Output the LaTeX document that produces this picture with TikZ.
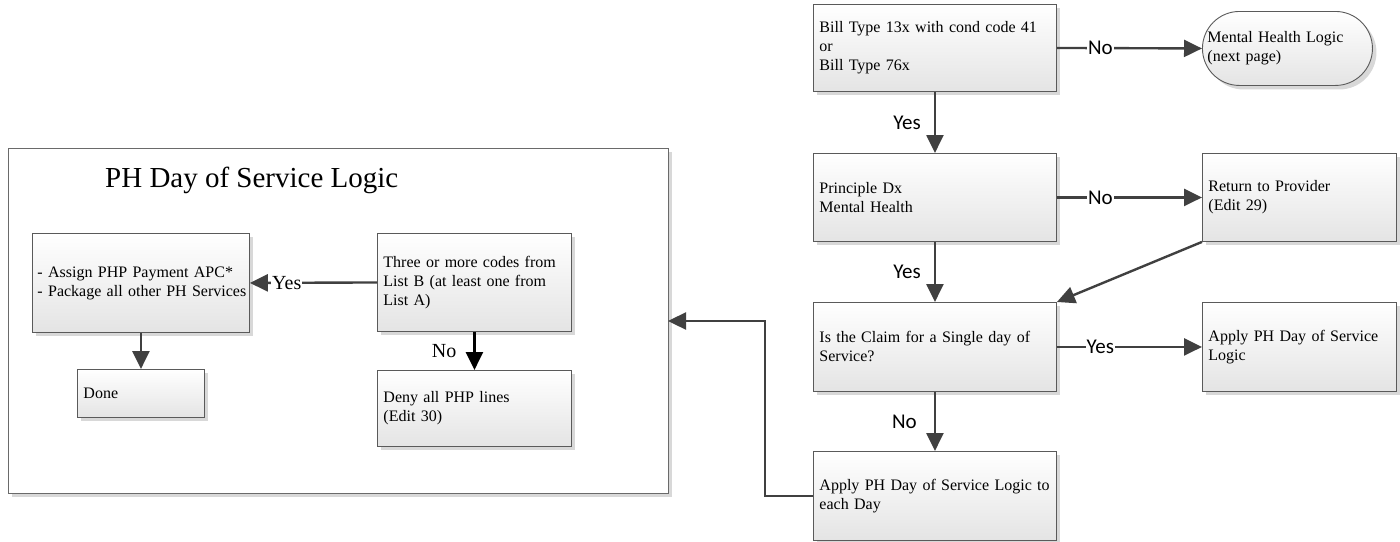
\documentclass[tikz,border=0pt]{standalone}
\usepackage{fontspec}
\setmainfont{Liberation Serif}
\newfontfamily\labfont{Carlito}
\usetikzlibrary{shadows,arrows.meta}
\definecolor{arrowgray}{HTML}{404040}
\definecolor{boxline}{HTML}{5A5A5A}
\definecolor{shadowgray}{HTML}{D8D8D8}
\definecolor{boxbottom}{HTML}{E4E4E4}
\definecolor{framegray}{HTML}{6A6A6A}
\begin{document}
\begin{tikzpicture}[x=1pt,y=-1pt,
  box/.style={draw=boxline, line width=0.9pt, top color=white, bottom color=boxbottom,
    drop shadow={shadow xshift=4pt, shadow yshift=-4pt, fill=shadowgray, opacity=1},
    anchor=north west, inner xsep=6pt, inner ysep=0pt, align=left,
    font=\fontsize{16}{19}\selectfont},
  framebox/.style={draw=framegray, line width=1pt, fill=white,
    drop shadow={shadow xshift=3pt, shadow yshift=-3pt, fill=shadowgray, opacity=1},
    anchor=north west, inner sep=0pt},
  arr/.style={draw=arrowgray, line width=2.4pt, -{Triangle[length=18pt,width=17pt]}},
  slab/.style={font=\labfont\fontsize{21}{21}\selectfont, inner sep=1pt, fill=white},
  rlab/.style={font=\fontsize{20}{20}\selectfont, inner sep=1pt, fill=white},
  vlab/.style={font=\labfont\fontsize{21}{21}\selectfont, inner sep=1pt},
  vrlab/.style={font=\fontsize{20}{20}\selectfont, inner sep=1pt},
]
\useasboundingbox (0,0) rectangle (1400,541);

% left frame
\node[framebox, minimum width=660pt, minimum height=345pt] (frame) at (8,148) {};
\node[anchor=base west, inner sep=0pt, font=\fontsize{29}{29}\selectfont] (title) at (105,187) {PH Day of Service Logic};

% right column
\node[box, minimum width=243pt, minimum height=87pt, text width=231pt] (A) at (813,4)
  {Bill Type 13x with cond code 41\\or\\Bill Type 76x};
\node[box, minimum width=170pt, minimum height=74pt, text width=160pt, inner xsep=5pt,
  rounded corners=37pt] (T) at (1202,11)
  {Mental Health Logic\\(next page)};
\node[box, minimum width=243pt, minimum height=88pt, text width=231pt] (B) at (813,153)
  {Principle Dx\\Mental Health};
\node[box, minimum width=194pt, minimum height=88pt, text width=182pt] (R) at (1202,153)
  {Return to Provider\\(Edit 29)};
\node[box, minimum width=243pt, minimum height=89pt, text width=231pt] (C) at (813,302)
  {Is the Claim for a Single day of\\Service?};
\node[box, minimum width=194pt, minimum height=89pt, text width=182pt] (D) at (1202,302)
  {Apply PH Day of Service\\Logic};
\node[box, minimum width=243pt, minimum height=89pt, text width=231pt] (E) at (813,451)
  {Apply PH Day of Service Logic to\\each Day};

% inner boxes
\node[box, minimum width=217pt, minimum height=99pt, text width=207pt, inner xsep=5pt] (F) at (32,233)
  {\mbox{- Assign PHP Payment APC*}\\\mbox{- Package all other PH Services}};
\node[box, minimum width=194pt, minimum height=98pt, text width=182pt] (G) at (377,233)
  {Three or more codes from\\List B (at least one from\\List A)};
\node[box, minimum width=127pt, minimum height=48pt, text width=115pt] (Done) at (77,369)
  {Done};
\node[box, minimum width=194pt, minimum height=76pt, text width=182pt] (Deny) at (377,370)
  {Deny all PHP lines\\(Edit 30)};

\coordinate (fin) at (668,321);

% connectors
\draw[arr] (A.east) -- node[slab, pos=0.3] {No} (T.west);
\draw[arr] (A.south) -- node[vlab, pos=0.5, left=12pt] {Yes} (B.north);
\draw[arr] (B.east) -- node[slab, pos=0.3] {No} (R.west);
\draw[arr] (B.south) -- node[vlab, pos=0.5, left=12pt] {Yes} (C.north);
\draw[arr] (R.south west) -- (C.north east);
\draw[arr] (C.east) -- node[slab, pos=0.3] {Yes} (D.west);
\draw[arr] (C.south) -- node[vlab, pos=0.5, left=16pt] {No} (E.north);
\draw[arr] (E.west) -- ++(-48,0) |- (fin);

\draw[arr] (G.west) -- node[rlab, pos=0.71] {Yes} (F.east);
\draw[arr] (F.south) -- (Done.north);
\draw[arr, draw=black] (G.south) -- node[vrlab, pos=0.5, left=16pt] {No} (Deny.north);
\end{tikzpicture}
\end{document}
